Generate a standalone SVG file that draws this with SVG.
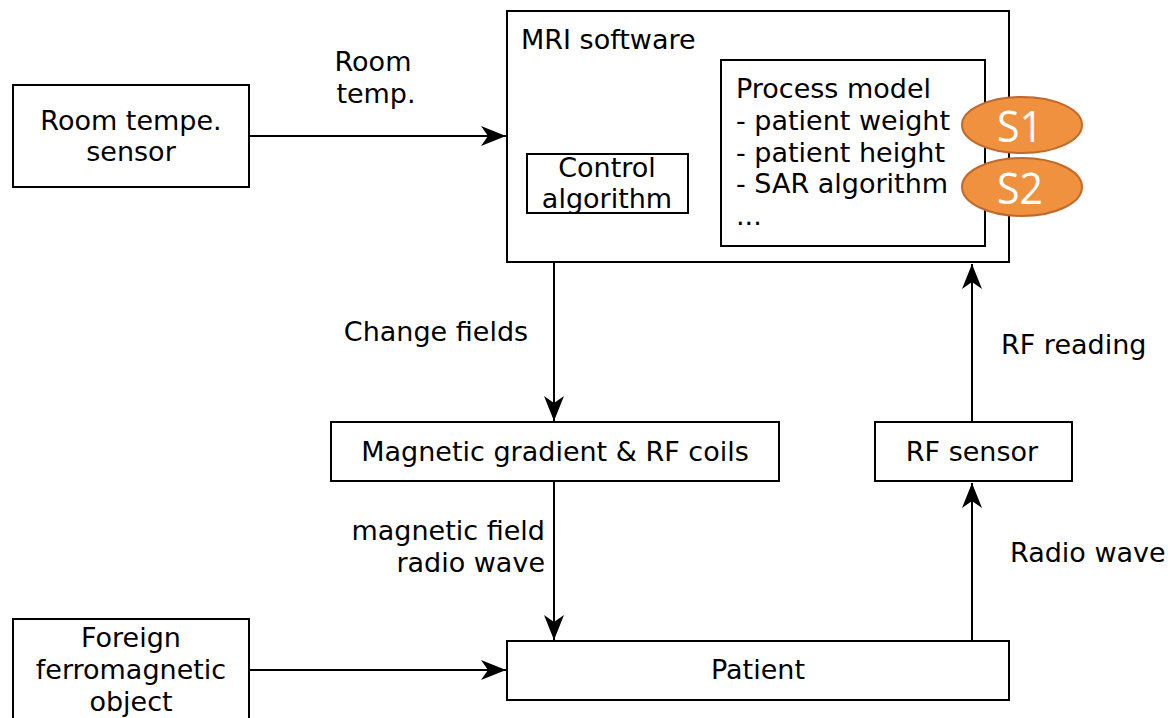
<svg xmlns="http://www.w3.org/2000/svg" width="1168" height="718" viewBox="0 0 1168 718">
<style>
.box{fill:#fff;stroke:#000;stroke-width:2}
.t{font-family:"DejaVu Sans",sans-serif;font-size:27px;fill:#000}
.c{text-anchor:middle}
.r{text-anchor:end}
.ln{stroke:#000;stroke-width:2;fill:none}
.tag{fill:#F0913F;stroke:#C0692A;stroke-width:2}
.tt{font-family:"Open Sans","Liberation Sans",sans-serif;font-size:44px;fill:#fff;text-anchor:middle}
</style>
<defs>
<marker id="ah" markerUnits="userSpaceOnUse" markerWidth="28" markerHeight="24" viewBox="-26 -12 28 24" refX="0" refY="0" orient="auto">
<path d="M0 0 L-25 -10 L-18 0 L-25 10 Z" fill="#000"/>
</marker>
</defs>
<rect width="1168" height="718" fill="#fff"/>
<g id="connectors">
<line class="ln" x1="249" y1="136" x2="506" y2="136" marker-end="url(#ah)"/>
<line class="ln" x1="554" y1="263" x2="554" y2="421" marker-end="url(#ah)"/>
<line class="ln" x1="972" y1="422" x2="972" y2="264" marker-end="url(#ah)"/>
<line class="ln" x1="554" y1="482" x2="554" y2="640" marker-end="url(#ah)"/>
<line class="ln" x1="972" y1="641" x2="972" y2="483" marker-end="url(#ah)"/>
<line class="ln" x1="249" y1="670" x2="506" y2="670" marker-end="url(#ah)"/>
<text class="t c" x="373" y="71">Room</text>
<text class="t c" x="376" y="103">temp.</text>
<text class="t c" x="436" y="341">Change fields</text>
<text class="t" x="1001" y="354">RF reading</text>
<text class="t r" x="545" y="540">magnetic field</text>
<text class="t r" x="545" y="572">radio wave</text>
<text class="t" x="1010" y="562">Radio wave</text>
</g>
<g id="room-sensor">
<rect class="box" x="13" y="85" width="236" height="102"/>
<text class="t c" x="131" y="130">Room tempe.</text>
<text class="t c" x="131" y="161">sensor</text>
</g>
<g id="mri-software">
<rect class="box" x="507" y="11" width="502" height="251"/>
<text class="t" x="521" y="49">MRI software</text>
</g>
<g id="control-algorithm">
<rect class="box" x="527" y="154" width="161" height="59"/>
<text class="t c" x="607" y="177">Control</text>
<text class="t c" x="607" y="208">algorithm</text>
</g>
<g id="process-model">
<rect class="box" x="721" y="60" width="264" height="186"/>
<text class="t" x="736" y="98">Process model</text>
<text class="t" x="736" y="130">- patient weight</text>
<text class="t" x="736" y="162">- patient height</text>
<text class="t" x="736" y="193">- SAR algorithm</text>
<text class="t" x="736" y="225">...</text>
</g>
<g id="s1">
<ellipse class="tag" cx="1022" cy="125" rx="60" ry="28"/>
<text class="tt" x="1020" y="142" textLength="46" lengthAdjust="spacingAndGlyphs">S1</text>
</g>
<g id="s2">
<ellipse class="tag" cx="1022" cy="187" rx="60" ry="29"/>
<text class="tt" x="1020" y="204" textLength="46" lengthAdjust="spacingAndGlyphs">S2</text>
</g>
<g id="coils">
<rect class="box" x="331" y="422" width="448" height="59"/>
<text class="t c" x="555" y="461">Magnetic gradient &amp; RF coils</text>
</g>
<g id="rf-sensor">
<rect class="box" x="875" y="422" width="197" height="59"/>
<text class="t c" x="972" y="461">RF sensor</text>
</g>
<g id="patient">
<rect class="box" x="507" y="641" width="502" height="59"/>
<text class="t c" x="758" y="679">Patient</text>
</g>
<g id="foreign-object">
<rect class="box" x="13" y="619" width="236" height="110"/>
<text class="t c" x="131" y="647">Foreign</text>
<text class="t c" x="131" y="679">ferromagnetic</text>
<text class="t c" x="131" y="711">object</text>
</g>
</svg>
